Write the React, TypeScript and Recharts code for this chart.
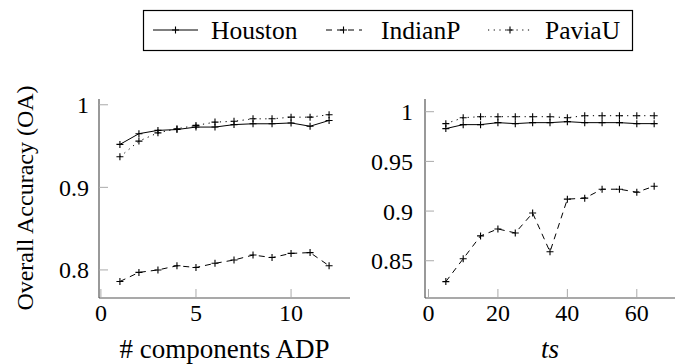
import { Line, LineChart, XAxis, YAxis } from "recharts";

const adpComponents = [1, 2, 3, 4, 5, 6, 7, 8, 9, 10, 11, 12];
const houstonAdp = [0.952, 0.965, 0.969, 0.97, 0.973, 0.973, 0.976, 0.977, 0.977, 0.978, 0.974, 0.981];
const indianAdp = [0.786, 0.797, 0.8, 0.805, 0.803, 0.808, 0.812, 0.818, 0.815, 0.82, 0.821, 0.805];
const paviaAdp = [0.937, 0.956, 0.966, 0.971, 0.975, 0.979, 0.98, 0.983, 0.983, 0.985, 0.985, 0.988];

const tsValues = [5, 10, 15, 20, 25, 30, 35, 40, 45, 50, 55, 60, 65];
const houstonTs = [0.983, 0.987, 0.987, 0.989, 0.988, 0.989, 0.989, 0.99, 0.989, 0.989, 0.989, 0.988, 0.988];
const indianTs = [0.829, 0.852, 0.875, 0.882, 0.878, 0.898, 0.859, 0.912, 0.913, 0.922, 0.922, 0.919, 0.925];
const paviaTs = [0.988, 0.994, 0.995, 0.995, 0.995, 0.995, 0.995, 0.994, 0.996, 0.996, 0.996, 0.996, 0.996];

const leftXTicks = [0, 5, 10];
const leftYTicks = [0.8, 0.9, 1];
const rightXTicks = [0, 20, 40, 60];
const rightYTicks = [0.85, 0.9, 0.95, 1];

const FONT = "Liberation Serif, DejaVu Serif, serif";
const FRAME = "#555";
const TICK = "#aaa";

const adpData = adpComponents.map((x, i) => ({
  x,
  houston: houstonAdp[i],
  indian: indianAdp[i],
  pavia: paviaAdp[i],
}));

const tsData = tsValues.map((x, i) => ({
  x,
  houston: houstonTs[i],
  indian: indianTs[i],
  pavia: paviaTs[i],
}));

const Plus = (props: any) => {
  const { cx, cy } = props;
  if (cx == null || cy == null) return <g />;
  return (
    <path
      d={`M${cx - 3.5},${cy}H${cx + 3.5}M${cx},${cy - 3.5}V${cy + 3.5}`}
      stroke="#000"
      strokeWidth={1.1}
      fill="none"
    />
  );
};

const series = [
  { key: "houston", dash: undefined },
  { key: "indian", dash: "6 5" },
  { key: "pavia", dash: "1.2 4.5" },
];

function Panel({ data, xDomain, yDomain, xTicks, yTicks, width, yWidth, right, yMargin }: any) {
  const tickStyle = { fill: "#000", fontSize: 24, fontFamily: FONT };
  return (
    <LineChart
      width={width}
      height={364}
      data={data}
      margin={{ top: 99, right, bottom: 0, left: 0 }}
      style={{ fontFamily: FONT }}
    >
      <XAxis
        dataKey="x"
        type="number"
        domain={xDomain}
        ticks={xTicks}
        allowDataOverflow
        height={66}
        tickSize={-9}
        tickMargin={15}
        axisLine={{ stroke: FRAME, strokeWidth: 1.2 }}
        tickLine={{ stroke: TICK }}
        tick={tickStyle}
        interval={0}
      />
      <XAxis
        xAxisId="top"
        orientation="top"
        dataKey="x"
        type="number"
        domain={xDomain}
        ticks={xTicks}
        allowDataOverflow
        height={0}
        tickSize={-9}
        axisLine={{ stroke: FRAME, strokeWidth: 1.2 }}
        tickLine={{ stroke: TICK }}
        tick={false}
        interval={0}
      />
      <YAxis
        type="number"
        domain={yDomain}
        ticks={yTicks}
        allowDataOverflow
        width={yWidth}
        tickSize={-9}
        tickMargin={yMargin}
        axisLine={{ stroke: FRAME, strokeWidth: 1.2 }}
        tickLine={{ stroke: TICK }}
        tick={tickStyle}
        interval={0}
      />
      <YAxis
        yAxisId="right"
        orientation="right"
        type="number"
        domain={yDomain}
        ticks={yTicks}
        allowDataOverflow
        width={0}
        tickSize={-9}
        axisLine={{ stroke: FRAME, strokeWidth: 1.2 }}
        tickLine={{ stroke: TICK }}
        tick={false}
        interval={0}
      />
      <Line
        xAxisId="top"
        yAxisId="right"
        dataKey="houston"
        stroke="none"
        dot={false}
        isAnimationActive={false}
      />
      {series.map((s) => (
        <Line
          key={s.key}
          dataKey={s.key}
          type="linear"
          stroke="#000"
          strokeWidth={1}
          strokeDasharray={s.dash}
          dot={<Plus />}
          activeDot={false}
          isAnimationActive={false}
        />
      ))}
    </LineChart>
  );
}

export default function App() {
  return (
    <div style={{ position: "absolute", left: 0, top: 0, width: 678, height: 364, background: "#fff", fontFamily: FONT }}>
      <div style={{ position: "absolute", left: 0, top: 0 }}>
        <Panel
          data={adpData}
          xDomain={[-0.1, 13.1]}
          yDomain={[0.766, 1.007]}
          xTicks={leftXTicks}
          yTicks={leftYTicks}
          width={360}
          yWidth={99}
          right={10}
          yMargin={19}
        />
      </div>
      <div style={{ position: "absolute", left: 360, top: 0 }}>
        <Panel
          data={tsData}
          xDomain={[-1, 71]}
          yDomain={[0.8125, 1.0128]}
          xTicks={rightXTicks}
          yTicks={rightYTicks}
          width={318}
          yWidth={65}
          right={3}
          yMargin={21}
        />
      </div>
      <svg
        width={678}
        height={364}
        style={{ position: "absolute", left: 0, top: 0, pointerEvents: "none", fontFamily: FONT }}
      >
        <rect x={143.5} y={10.5} width={489} height={40} fill="none" stroke="#000" strokeWidth={1.2} />
        <line x1={153} x2={198} y1={30} y2={30} stroke="#000" strokeWidth={1} />
        <Plus cx={175.5} cy={30} />
        <text x={211} y={38.5} fontSize={25.5}>Houston</text>
        <line x1={325} x2={362} y1={30} y2={30} stroke="#000" strokeWidth={1} strokeDasharray="6 5" strokeDashoffset={-1} />
        <Plus cx={343.5} cy={30} />
        <text x={381} y={38.5} fontSize={25.5}>IndianP</text>
        <line x1={488} x2={532} y1={30} y2={30} stroke="#000" strokeWidth={1} strokeDasharray="1.2 4.5" />
        <Plus cx={510} cy={30} />
        <text x={545} y={38.5} fontSize={25.5}>PaviaU</text>

        <text x={224.5} y={357.5} fontSize={27} textAnchor="middle">
          # components ADP
        </text>
        <text x={550} y={357.5} fontSize={27} textAnchor="middle" fontStyle="italic">
          ts
        </text>
        <text
          x={33}
          y={198}
          fontSize={24}
          textAnchor="middle"
          transform="rotate(-90, 33, 198)"
        >
          Overall Accuracy (OA)
        </text>
      </svg>
    </div>
  );
}
